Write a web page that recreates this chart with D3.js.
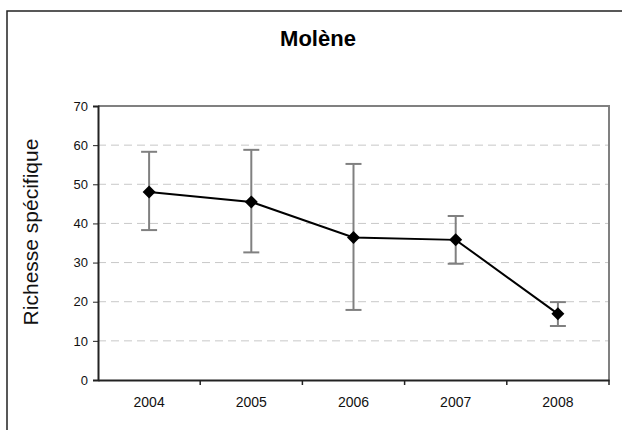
<!DOCTYPE html>
<html>
<head>
<meta charset="utf-8">
<script src="https://cdn.jsdelivr.net/npm/d3@7"></script>
<style>
  body { margin: 0; background: #fff; }
  svg { display: block; font-family: "Liberation Sans", Arial, sans-serif; }
</style>
</head>
<body>
<script>
// chart data
var years = ["2004", "2005", "2006", "2007", "2008"];
var means = [48, 45.5, 36.4, 35.8, 16.9];
var highs = [58.3, 58.8, 55.2, 41.9, 19.9];
var lows = [38.3, 32.6, 17.9, 29.7, 13.8];
var yTicks = [0, 10, 20, 30, 40, 50, 60, 70];

var rows = years.map(function(y, i) {
  return {year: y, mean: means[i], hi: highs[i], lo: lows[i]};
});

var svg = d3.select("body").append("svg")
            .attr("width", 622)
            .attr("height", 430);

// outer chart frame (runs off the image to the right and bottom)
svg.append("rect")
   .attr("x", 7).attr("y", 11)
   .attr("width", 700).attr("height", 500)
   .attr("fill", "#fff")
   .attr("stroke", "#222")
   .attr("stroke-width", 1.5);

var plotL = 98, plotR = 609, plotT = 106, plotB = 380;

var x = d3.scaleBand().domain(years).range([plotL, plotR]).padding(0);
var y = d3.scaleLinear().domain([0, 70]).range([plotB, plotT]);

// dashed grid
svg.append("g").selectAll("line")
   .data(yTicks.filter(function(t) { return t > 0 && t < 70; }))
   .enter().append("line")
   .attr("x1", plotL).attr("x2", plotR)
   .attr("y1", function(d) { return y(d); })
   .attr("y2", function(d) { return y(d); })
   .attr("stroke", "#c8c8c8")
   .attr("stroke-width", 1)
   .attr("stroke-dasharray", "8,5");

// top and right border of plot area
svg.append("path")
   .attr("d", "M" + plotL + "," + plotT + "H" + plotR + "V" + plotB)
   .attr("fill", "none")
   .attr("stroke", "#808080")
   .attr("stroke-width", 2);

// y axis
var yAxis = svg.append("g")
   .attr("transform", "translate(" + plotL + ",0)")
   .call(d3.axisLeft(y).tickValues(yTicks).tickSize(5).tickPadding(5));
yAxis.select(".domain").attr("stroke", "#222").attr("stroke-width", 2);
yAxis.selectAll(".tick line").attr("stroke", "#222");
yAxis.selectAll("text").attr("font-size", 13).attr("fill", "#111")
     .attr("font-family", "Liberation Sans, Arial, sans-serif");

// x axis: ticks sit between categories
var xAxis = svg.append("g")
   .attr("transform", "translate(0," + plotB + ")")
   .call(d3.axisBottom(x).tickSize(0).tickPadding(17));
xAxis.select(".domain").attr("stroke", "#222").attr("stroke-width", 2);
xAxis.selectAll("text").attr("font-size", 14).attr("fill", "#111")
     .attr("font-family", "Liberation Sans, Arial, sans-serif");
xAxis.selectAll(".sep")
   .data(years.slice(1).concat(["end"]))
   .enter().append("line")
   .attr("class", "sep")
   .attr("x1", function(d) { return d === "end" ? plotR : x(d); })
   .attr("x2", function(d) { return d === "end" ? plotR : x(d); })
   .attr("y1", 0).attr("y2", 5)
   .attr("stroke", "#222").attr("stroke-width", 1.5);

function cx(d) { return x(d.year) + x.bandwidth() / 2; }

// error bars
var err = svg.append("g").attr("stroke", "#808080").attr("stroke-width", 2);
err.selectAll(".v").data(rows).enter().append("line")
   .attr("x1", cx).attr("x2", cx)
   .attr("y1", function(d) { return y(d.hi); })
   .attr("y2", function(d) { return y(d.lo); });
err.selectAll(".hi").data(rows).enter().append("line")
   .attr("x1", function(d) { return cx(d) - 8; })
   .attr("x2", function(d) { return cx(d) + 8; })
   .attr("y1", function(d) { return y(d.hi); })
   .attr("y2", function(d) { return y(d.hi); });
err.selectAll(".lo").data(rows).enter().append("line")
   .attr("x1", function(d) { return cx(d) - 8; })
   .attr("x2", function(d) { return cx(d) + 8; })
   .attr("y1", function(d) { return y(d.lo); })
   .attr("y2", function(d) { return y(d.lo); });

// series line
var line = d3.line().x(cx).y(function(d) { return y(d.mean); });
svg.append("path")
   .datum(rows)
   .attr("d", line)
   .attr("fill", "none")
   .attr("stroke", "#000")
   .attr("stroke-width", 2);

// diamond markers
svg.selectAll(".pt").data(rows).enter().append("path")
   .attr("transform", function(d) { return "translate(" + cx(d) + "," + y(d.mean) + ")"; })
   .attr("d", "M0,-6.5L6.5,0L0,6.5L-6.5,0Z")
   .attr("fill", "#000");

// title
svg.append("text")
   .attr("x", 318).attr("y", 46)
   .attr("text-anchor", "middle")
   .attr("font-size", 22)
   .attr("font-weight", "bold")
   .text("Molène");

// y axis title
svg.append("text")
   .attr("transform", "translate(38,232) rotate(-90)")
   .attr("text-anchor", "middle")
   .attr("font-size", 21)
   .attr("fill", "#111")
   .text("Richesse spécifique");
</script>
</body>
</html>
